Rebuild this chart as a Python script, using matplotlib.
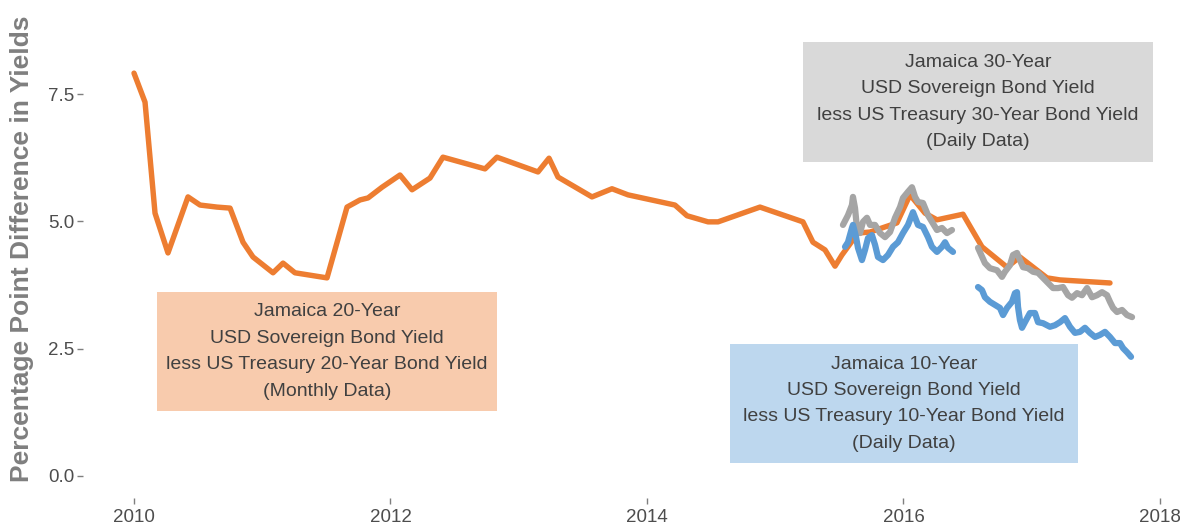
import matplotlib
matplotlib.use("Agg")
import matplotlib.pyplot as plt
from matplotlib.patches import Rectangle

# ---------------- data ----------------
# Jamaica 20-year spread (monthly), decimal year / percentage points
yr20_x = [2010.000, 2010.086, 2010.164, 2010.265, 2010.421, 2010.515, 2010.647, 2010.749,
          2010.850, 2010.928, 2011.084, 2011.162, 2011.255, 2011.505, 2011.661, 2011.762,
          2011.825, 2011.934, 2012.074, 2012.168, 2012.308, 2012.409, 2012.737, 2012.830,
          2013.150, 2013.236, 2013.306, 2013.571, 2013.727, 2013.852, 2014.218, 2014.312,
          2014.476, 2014.554, 2014.881, 2015.216, 2015.294, 2015.388, 2015.466, 2015.520,
          2015.645, 2015.739, 2015.949, 2016.051, 2016.168, 2016.261, 2016.464, 2016.612,
          2016.807, 2016.908, 2017.119, 2017.220, 2017.610]
yr20_y = [7.91, 7.34, 5.16, 4.38, 5.48, 5.32, 5.28, 5.26,
          4.59, 4.30, 3.99, 4.18, 3.99, 3.89, 5.28, 5.42,
          5.46, 5.67, 5.91, 5.62, 5.85, 6.26, 6.03, 6.26,
          5.97, 6.24, 5.87, 5.48, 5.64, 5.52, 5.32, 5.11,
          4.99, 4.99, 5.28, 4.99, 4.59, 4.44, 4.12, 4.34,
          4.77, 4.79, 4.97, 5.52, 5.16, 5.03, 5.14, 4.50,
          4.10, 4.30, 3.89, 3.85, 3.79]

# Jamaica 30-year spread (daily), two segments
yr30_x1 = [2015.528, 2015.567, 2015.598, 2015.606, 2015.622, 2015.637, 2015.661, 2015.684,
           2015.715, 2015.739, 2015.778, 2015.817, 2015.856, 2015.895, 2015.934, 2015.973,
           2015.996, 2016.035, 2016.066, 2016.090, 2016.113, 2016.152, 2016.191, 2016.222,
           2016.261, 2016.300, 2016.339, 2016.378]
yr30_y1 = [4.93, 5.12, 5.32, 5.48, 5.26, 4.87, 4.77, 4.99,
           5.07, 4.93, 4.93, 4.77, 4.69, 4.79, 5.07, 5.28,
           5.46, 5.58, 5.67, 5.48, 5.38, 5.36, 5.12, 4.99,
           4.83, 4.87, 4.77, 4.83]
yr30_x2 = [2016.581, 2016.635, 2016.674, 2016.729, 2016.768, 2016.791, 2016.830, 2016.854,
           2016.885, 2016.908, 2016.932, 2016.971, 2017.010, 2017.049, 2017.088, 2017.127,
           2017.166, 2017.205, 2017.244, 2017.283, 2017.314, 2017.353, 2017.392, 2017.431,
           2017.470, 2017.509, 2017.548, 2017.587, 2017.610, 2017.634, 2017.665, 2017.704,
           2017.743, 2017.782]
yr30_y2 = [4.48, 4.18, 4.08, 4.04, 3.91, 4.01, 4.14, 4.34,
           4.38, 4.24, 4.10, 4.08, 4.01, 3.99, 3.89, 3.79,
           3.69, 3.69, 3.71, 3.55, 3.50, 3.59, 3.55, 3.69,
           3.51, 3.55, 3.61, 3.55, 3.42, 3.30, 3.22, 3.26,
           3.16, 3.12]

# Jamaica 10-year spread (daily), two segments
yr10_x1 = [2015.544, 2015.567, 2015.598, 2015.606, 2015.630, 2015.645, 2015.676, 2015.700,
           2015.723, 2015.754, 2015.778, 2015.801, 2015.840, 2015.879, 2015.918, 2015.957,
           2015.996, 2016.035, 2016.074, 2016.113, 2016.152, 2016.191, 2016.222, 2016.261,
           2016.300, 2016.324, 2016.347, 2016.386]
yr10_y1 = [4.50, 4.59, 4.87, 4.93, 4.69, 4.48, 4.24, 4.44,
           4.67, 4.73, 4.54, 4.30, 4.24, 4.34, 4.50, 4.59,
           4.77, 4.93, 5.18, 4.93, 4.89, 4.69, 4.50, 4.40,
           4.50, 4.59, 4.48, 4.40]
yr10_x2 = [2016.581, 2016.612, 2016.635, 2016.674, 2016.713, 2016.752, 2016.776, 2016.807,
           2016.846, 2016.869, 2016.885, 2016.893, 2016.908, 2016.924, 2016.947, 2016.986,
           2017.025, 2017.049, 2017.088, 2017.142, 2017.181, 2017.220, 2017.259, 2017.298,
           2017.337, 2017.376, 2017.415, 2017.454, 2017.493, 2017.532, 2017.571, 2017.610,
           2017.649, 2017.688, 2017.712, 2017.743, 2017.774]
yr10_y2 = [3.71, 3.65, 3.51, 3.42, 3.36, 3.30, 3.16, 3.30,
           3.42, 3.59, 3.61, 3.32, 3.06, 2.91, 3.02, 3.20,
           3.20, 3.02, 3.00, 2.93, 2.96, 3.02, 3.10, 2.93,
           2.81, 2.83, 2.91, 2.81, 2.73, 2.77, 2.83, 2.73,
           2.61, 2.61, 2.51, 2.43, 2.34]

x_ticks = [2010, 2012, 2014, 2016, 2018]
x_tick_labels = ["2010", "2012", "2014", "2016", "2018"]
y_ticks = [0.0, 2.5, 5.0, 7.5]
y_tick_labels = ["0.0", "2.5", "5.0", "7.5"]

label20 = "Jamaica 20-Year\nUSD Sovereign Bond Yield\nless US Treasury 20-Year Bond Yield\n(Monthly Data)"
label30 = "Jamaica 30-Year\nUSD Sovereign Bond Yield\nless US Treasury 30-Year Bond Yield\n(Daily Data)"
label10 = "Jamaica 10-Year\nUSD Sovereign Bond Yield\nless US Treasury 10-Year Bond Yield\n(Daily Data)"

# annotation boxes: (xmin, xmax, ymin, ymax) in data units
box20 = (2010.18, 2012.83, 1.28, 3.61)
box30 = (2015.22, 2017.945, 6.17, 8.52)
box10 = (2014.65, 2017.36, 0.255, 2.59)

ORANGE = "#ED7D31"
GRAY = "#A5A5A5"
BLUE = "#5B9BD5"
ORANGE_FILL = "#F8CBAD"
GRAY_FILL = "#D9D9D9"
BLUE_FILL = "#BDD7EE"
TEXT = "#404040"

plt.rcParams['font.family'] = ['Liberation Sans', 'DejaVu Sans']

fig = plt.figure(figsize=(11.8, 5.29), dpi=100)
ax = fig.add_axes([83/1180, 31/529, (1178-83)/1180, (498-20)/529])

for (x0, x1, y0, y1), fc, lab in [(box20, ORANGE_FILL, label20),
                                  (box30, GRAY_FILL, label30),
                                  (box10, BLUE_FILL, label10)]:
    ax.add_patch(Rectangle((x0, y0), x1 - x0, y1 - y0, facecolor=fc,
                           edgecolor='none', zorder=1))
    ax.text((x0 + x1) / 2, (y0 + y1) / 2, lab, ha='center', va='center',
            fontsize=14, color=TEXT, linespacing=1.72, zorder=2)

lw = 3.9
ax.plot(yr20_x, yr20_y, color=ORANGE, lw=lw, solid_joinstyle='round',
        solid_capstyle='round', zorder=3)
for xs, ys in [(yr30_x1, yr30_y1), (yr30_x2, yr30_y2)]:
    ax.plot(xs, ys, color=GRAY, lw=lw + 0.6, solid_joinstyle='round',
            solid_capstyle='round', zorder=4)
for xs, ys in [(yr10_x1, yr10_y1), (yr10_x2, yr10_y2)]:
    ax.plot(xs, ys, color=BLUE, lw=lw + 0.6, solid_joinstyle='round',
            solid_capstyle='round', zorder=5)

ax.set_xlim(2010 - 51/128.25, 2010 + 1044/128.25)
ax.set_ylim(-22/50.93, 456/50.93)

ax.set_xticks(x_ticks)
ax.set_xticklabels(x_tick_labels)
ax.set_yticks(y_ticks)
ax.set_yticklabels(y_tick_labels)
ax.tick_params(axis='both', colors='#7F7F7F', labelcolor='#4D4D4D',
               labelsize=13.5, length=4, width=1)
ax.tick_params(axis='x', pad=4)
ax.tick_params(axis='y', pad=2)
for s in ax.spines.values():
    s.set_visible(False)
ax.set_facecolor('white')

fig.text(22/1180, 1 - 249/529, "Percentage Point Difference in Yields",
         rotation=90, ha='center', va='center', fontsize=19,
         fontweight='bold', color='#7F7F7F')

fig.savefig("out.png", dpi=100, facecolor='white')
